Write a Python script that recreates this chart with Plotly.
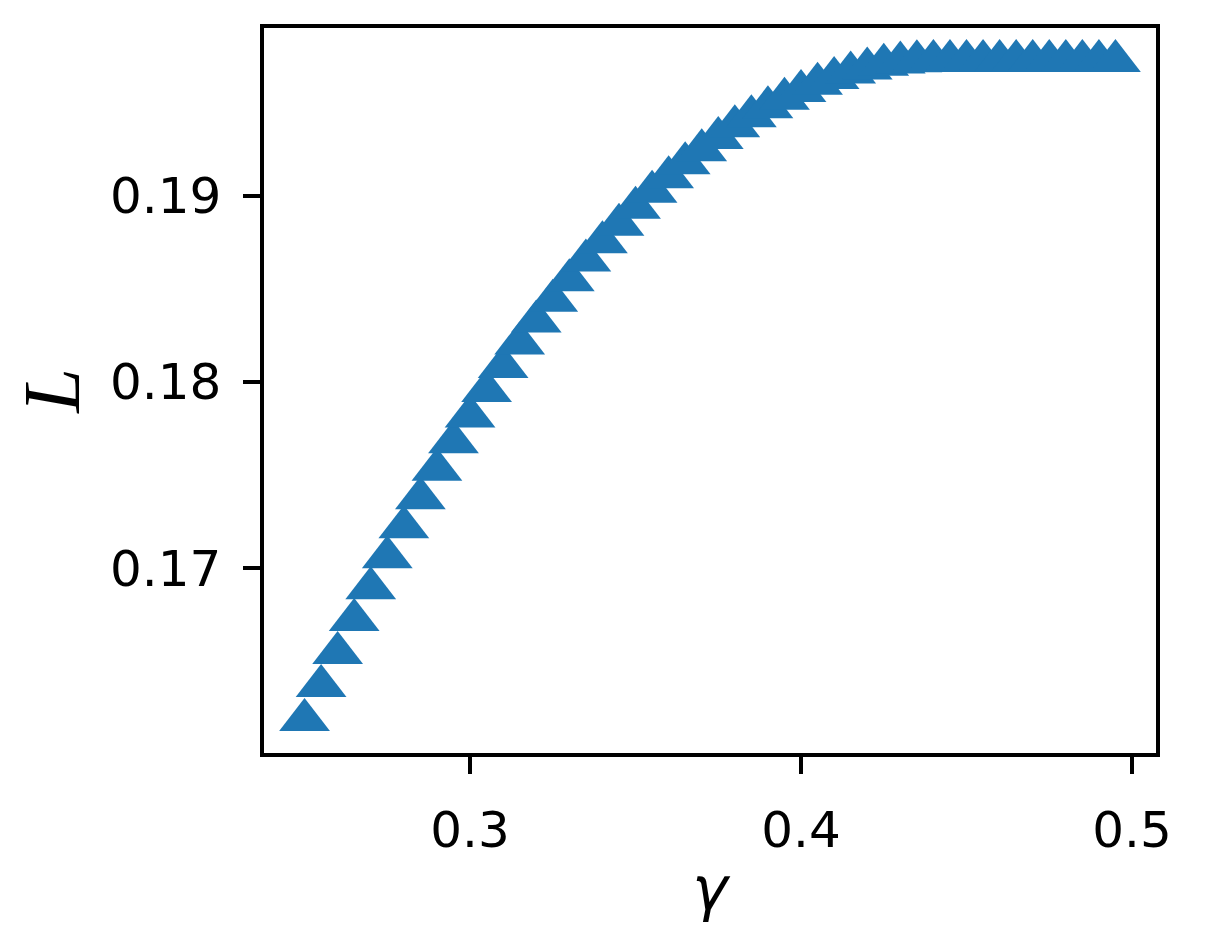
import plotly.graph_objects as go

gamma = [0.250, 0.255, 0.260, 0.265, 0.270, 0.275, 0.280, 0.285, 0.290, 0.295,
         0.300, 0.305, 0.310, 0.315, 0.320, 0.325, 0.330, 0.335, 0.340, 0.345,
         0.350, 0.355, 0.360, 0.365, 0.370, 0.375, 0.380, 0.385, 0.390, 0.395,
         0.400, 0.405, 0.410, 0.415, 0.420, 0.425, 0.430, 0.435, 0.440, 0.445,
         0.450, 0.455, 0.460, 0.465, 0.470, 0.475, 0.480, 0.485, 0.490, 0.495]

L_values = [0.16184, 0.16367, 0.16544, 0.16721, 0.16892, 0.17058, 0.17219, 0.17375, 0.17528, 0.17675,
            0.17814, 0.17951, 0.18080, 0.18206, 0.18324, 0.18436, 0.18546, 0.18651, 0.18750, 0.18844,
            0.18935, 0.19021, 0.19099, 0.19174, 0.19243, 0.19310, 0.19372, 0.19426, 0.19474, 0.19520,
            0.19562, 0.19600, 0.19632, 0.19661, 0.19683, 0.19702, 0.19715, 0.19722, 0.19723, 0.19723,
            0.19723, 0.19723, 0.19723, 0.19723, 0.19723, 0.19723, 0.19723, 0.19723, 0.19723, 0.19723]

x_ticks = [0.3, 0.4, 0.5]
x_tick_labels = ["0.3", "0.4", "0.5"]
y_ticks = [0.17, 0.18, 0.19]
y_tick_labels = ["0.17", "0.18", "0.19"]

fig = go.Figure()
fig.add_trace(go.Scatter(
    x=gamma, y=L_values, mode="markers",
    marker=dict(symbol="triangle-up", size=44, color="#1f77b4", line=dict(width=0)),
    showlegend=False,
))

axis_common = dict(
    showgrid=False, zeroline=False, showline=True, linecolor="black", linewidth=3.5,
    mirror=True, ticks="outside", ticklen=17, tickwidth=3.5, tickcolor="black",
    tickfont=dict(family="DejaVu Sans", size=50, color="black"),
)

fig.update_layout(
    width=1222, height=930,
    margin=dict(l=253, r=74, t=20, b=185),
    paper_bgcolor="white", plot_bgcolor="white",
    xaxis=dict(range=[0.23775, 0.50725], tickvals=x_ticks, ticktext=x_tick_labels,
               ticklabelstandoff=13,
               title=dict(text="<i>γ</i>", font=dict(family="DejaVu Sans", size=60, color="black"),
                          standoff=10),
               **axis_common),
    yaxis=dict(range=[0.16007, 0.19900], tickvals=y_ticks, ticktext=y_tick_labels,
               ticklabelstandoff=12,
               title=dict(text="<i>L</i>", font=dict(family="Liberation Serif", size=80, color="black"),
                          standoff=34),
               **axis_common),
)

fig.write_html("out.html")
